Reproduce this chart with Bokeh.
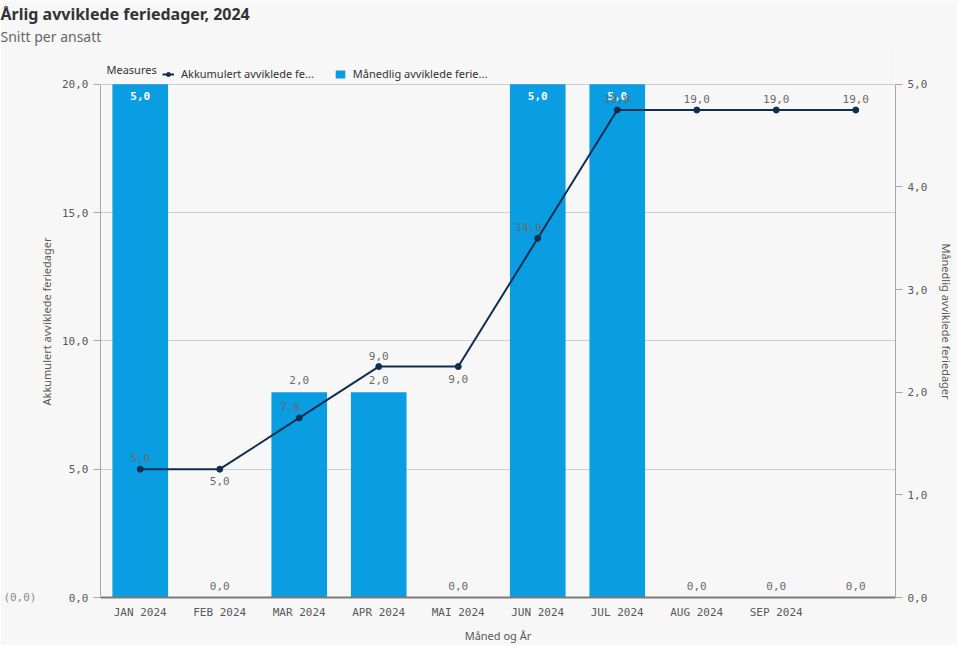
from bokeh.plotting import figure
from bokeh.models import (Range1d, LinearAxis, FixedTicker, CustomJSTickFormatter,
                          Legend, LegendItem, Title, Label, ColumnDataSource)
from bokeh.core.properties import value
from bokeh.embed import file_html
from bokeh.resources import INLINE

# ---- data ----
months = ["JAN 2024", "FEB 2024", "MAR 2024", "APR 2024", "MAI 2024",
          "JUN 2024", "JUL 2024", "AUG 2024", "SEP 2024", ""]
monthly = [5, 0, 2, 2, 0, 5, 5, 0, 0, 0]          # Månedlig avviklede feriedager (right axis)
cumulative = [5, 5, 7, 9, 9, 14, 19, 19, 19, 19]  # Akkumulert avviklede feriedager (left axis)
left_ticks = [0, 5, 10, 15, 20]
right_ticks = [0, 1, 2, 3, 4, 5]

# ---- style / layout ----
BG = "#f7f7f7"
BAR = "#0a9de1"
LINE = "#112d50"
GRAY = "#595959"
LBL = "#6a6a6a"
MONO = "DejaVu Sans Mono"
SANS = "Noto Sans"
LEFT_MAX = 20
RIGHT_MAX = 5
W, H = 957, 645
FRAME_TOP, PLOT_TOP, FRAME_BOTTOM = 46, 85, 600   # pixel layout
HEAD = (FRAME_BOTTOM - FRAME_TOP) / (FRAME_BOTTOM - PLOT_TOP)  # room for legend row

def fmt(v):
    return f"{v:.1f}".replace(".", ",")

xs = list(range(len(months)))

p = figure(width=W, height=H, output_backend="svg", toolbar_location=None,
           x_range=Range1d(-0.5, len(months) - 0.5), y_range=Range1d(0, LEFT_MAX * HEAD),
           background_fill_color=BG, border_fill_color=BG, outline_line_color=None,
           min_border_left=100, min_border_right=54, min_border_bottom=H - FRAME_BOTTOM,
           min_border_top=0)
p.extra_y_ranges = {"right": Range1d(0, RIGHT_MAX * HEAD)}

# ---- glyphs ----
bars_r = p.vbar(x=xs, top=monthly, width=0.7, color=BAR, line_color=None, y_range_name="right")
line_r = p.line(xs, cumulative, color=LINE, line_width=2)
pts_r = p.scatter(xs, cumulative, size=6, color=LINE)

# bar labels
b_off, b_col, b_style = [], [], []
for m in monthly:
    if m >= RIGHT_MAX * 0.95:
        b_off.append(12); b_col.append("white"); b_style.append("bold")
    else:
        b_off.append(-12); b_col.append(LBL); b_style.append("normal")
bsrc = ColumnDataSource(dict(x=xs, y=monthly, t=[fmt(m) for m in monthly], yo=b_off,
                             c=b_col, s=b_style))
p.text(x="x", y="y", text="t", y_offset="yo", text_color="c", text_font_style="s",
       source=bsrc, y_range_name="right", text_align="center", text_baseline="middle",
       text_font=value(MONO), text_font_size="11px")

# line labels
l_yo, l_xo = [], []
n = len(cumulative)
for i, v in enumerate(cumulative):
    prev = cumulative[i - 1] if i > 0 else None
    nxt = cumulative[i + 1] if i < n - 1 else None
    if prev is not None and nxt is not None and prev == v and nxt > v:
        l_yo.append(12); l_xo.append(0)
    elif prev is not None and nxt is not None and prev < v < nxt:
        l_yo.append(-11); l_xo.append(-9)
    else:
        l_yo.append(-11); l_xo.append(0)
lsrc = ColumnDataSource(dict(x=xs, y=cumulative, t=[fmt(v) for v in cumulative],
                             yo=l_yo, xo=l_xo))
p.text(x="x", y="y", text="t", y_offset="yo", x_offset="xo", source=lsrc,
       text_align="center", text_baseline="middle", text_color=LBL,
       text_font=value(MONO), text_font_size="11px")

# ---- axes ----
ya = p.yaxis[0]
ya.ticker = FixedTicker(ticks=left_ticks)
ya.formatter = CustomJSTickFormatter(code="return tick.toFixed(1).replace('.', ',');")
ya.axis_label = "Akkumulert avviklede feriedager"
ya.bounds = (0, LEFT_MAX)

ra = LinearAxis(y_range_name="right", ticker=FixedTicker(ticks=right_ticks),
                formatter=CustomJSTickFormatter(code="return tick.toFixed(1).replace('.', ',');"),
                axis_label="Månedlig avviklede feriedager", bounds=(0, RIGHT_MAX))
p.add_layout(ra, "right")

for ax in (ya, ra):
    ax.axis_line_color = "#a8a8a8"
    ax.major_tick_line_color = "#a8a8a8"
    ax.major_tick_out = 7
    ax.major_tick_in = 0
    ax.minor_tick_out = 0
    ax.minor_tick_line_color = None
    ax.major_label_standoff = 5
    ax.major_label_text_font = MONO
    ax.major_label_text_font_size = "11px"
    ax.major_label_text_color = GRAY
    ax.axis_label_text_font = SANS
    ax.axis_label_text_font_size = "11px"
    ax.axis_label_text_font_style = "normal"
    ax.axis_label_text_color = GRAY
ya.axis_label_standoff = 5
ra.axis_label_standoff = 9

# "(0,0)" note far left, beside the zero line
note = LinearAxis(ticker=FixedTicker(ticks=[0]),
                  formatter=CustomJSTickFormatter(code="return '(0,0)';"),
                  axis_line_color=None, major_tick_line_color=None, minor_tick_line_color=None,
                  major_tick_out=0, major_tick_in=0, minor_tick_out=0, minor_tick_in=0,
                  major_label_text_font=MONO, major_label_text_font_size="11px",
                  major_label_text_color="#8a8a8a", major_label_standoff=0)
p.add_layout(note, "left")

xa = p.xaxis[0]
xa.ticker = FixedTicker(ticks=xs)
xa.formatter = CustomJSTickFormatter(args=dict(labels=months),
    code="const i = Math.round(tick); return (i >= 0 && i < labels.length) ? labels[i] : '';")
xa.axis_label = "Måned og År"
xa.axis_line_color = "#7a7a7a"
xa.axis_line_width = 2
xa.major_tick_line_color = None
xa.minor_tick_line_color = None
xa.major_tick_out = 0
xa.major_tick_in = 0
xa.minor_tick_out = 0
xa.major_label_standoff = 8
xa.major_label_text_font = MONO
xa.major_label_text_font_size = "11px"
xa.major_label_text_color = GRAY
xa.axis_label_text_font = SANS
xa.axis_label_text_font_size = "11px"
xa.axis_label_text_font_style = "normal"
xa.axis_label_text_color = GRAY
xa.axis_label_standoff = 6

p.xgrid.visible = False
p.ygrid.grid_line_color = "#cfcfcf"
p.ygrid.grid_line_width = 1

# ---- legend (inside the head room of the frame) ----
p.add_layout(Label(x=-0.5, y=LEFT_MAX, x_offset=6, y_offset=15, text="Measures",
                   text_font=SANS, text_font_size="11px", text_color="#333333",
                   text_baseline="middle"))
items = [LegendItem(label="Akkumulert avviklede fe...", renderers=[line_r, pts_r]),
         LegendItem(label="Månedlig avviklede ferie...", renderers=[bars_r])]
legend = Legend(items=items, orientation="horizontal",
                location=(62, FRAME_BOTTOM - 84),
                label_text_font=SANS, label_text_font_size="11px", label_text_color="#333333",
                glyph_width=12, glyph_height=10, label_standoff=7, spacing=20,
                padding=4, margin=0, border_line_color=None, background_fill_alpha=0)
p.add_layout(legend, "center")

p.add_layout(Title(text="Snitt per ansatt", text_font=SANS, text_font_size="14px",
                   text_font_style="normal", text_color="#666666", align="left",
                   offset=-100, standoff=0), "above")
p.add_layout(Title(text="Årlig avviklede feriedager, 2024", text_font=SANS,
                   text_font_size="16px", text_font_style="bold", text_color="#333333",
                   align="left", offset=-100, standoff=0), "above")

open("out.html", "w").write(file_html(p, INLINE))
